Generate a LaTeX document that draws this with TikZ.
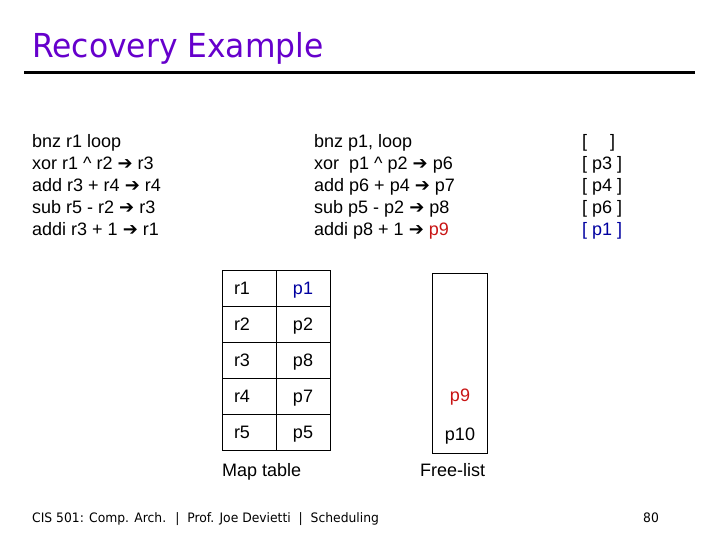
\documentclass[tikz,border=0pt]{standalone}
\usepackage{fontspec}
\setmainfont{Liberation Sans}
\newfontfamily\headfont[FakeStretch=0.95]{DejaVu Sans}
\newfontfamily\symfont{DejaVu Sans}
\usetikzlibrary{positioning}
\definecolor{titlepurple}{RGB}{102,0,204}
\definecolor{physblue}{RGB}{0,0,160}
\definecolor{physred}{RGB}{200,20,20}
\tikzset{every picture/.style={/utils/exec={\fontsize{18}{22}\selectfont}}}
\tikzset{code/.style={anchor=base west,inner sep=0pt}}
\tikzset{cell/.style={draw,minimum width=54pt,minimum height=36pt,inner ysep=0pt,text height=13pt,text depth=0pt}}
\tikzset{regcell/.style={cell,text width=30pt,align=left,inner xsep=12pt}}
\newcommand{\toarrow}{{\symfont\char"2794}}

\begin{document}
\begin{tikzpicture}[x=1pt,y=-1pt]
    \useasboundingbox (0,0) rectangle (720,540);
    % heading
    \node [code,text=titlepurple,font=\headfont\fontsize{33}{36}\selectfont] (title) at (32,58) {Recovery Example};
    \draw [line width=3pt] (24,73) -- (695,73);
    % architectural code, renamed code, history
    \foreach \a/\b/\c [count=\i] in {
        bnz r1 loop/bnz p1{,} loop/{[\hspace{23pt}]},
        xor r1 \textasciicircum{} r2 \toarrow{} r3/xor~ p1 \textasciicircum{} p2 \toarrow{} p6/[ p3 ],
        add r3 + r4 \toarrow{} r4/add p6 + p4 \toarrow{} p7/[ p4 ],
        sub r5 - r2 \toarrow{} r3/sub p5 - p2 \toarrow{} p8/[ p6 ],
        addi r3 + 1 \toarrow{} r1/addi p8 + 1 \toarrow{} \textcolor{physred}{p9}/\textcolor{physblue}{[ p1 ]}} {
        \node [code] (arch\i) at (32,125.5+22*\i) {\a};
        \node [code] (ren\i) at (314,125.5+22*\i) {\b};
        \node [code] (hist\i) at (582,125.5+22*\i) {\c};
    }
    % map table
    \foreach \r/\p [count=\i] in {r1/\textcolor{physblue}{p1},r2/p2,r3/p8,r4/p7,r5/p5} {
        \node [regcell] (reg\i) at (249,252+36*\i) {\r};
        \node [cell] (phys\i) at (303,252+36*\i) {\p};
    }
    \node [code] (maplabel) at (222,476) {Map table};
    % free list
    \node [draw,minimum width=55pt,minimum height=180pt,inner sep=0pt] (free) at (459.5,363) {};
    \node [anchor=base,inner sep=0pt,text=physred] (free9) at (460,401) {p9};
    \node [anchor=base,inner sep=0pt] (free10) at (460,440) {p10};
    \node [code] (freelabel) at (420,476) {Free-list};
    % footer
    \node [code,font=\headfont\fontsize{13}{15}\selectfont] (footer) at (32,522) {CIS 501: Comp. Arch.~ |~ Prof. Joe Devietti~ |~ Scheduling};
    \node [code,font=\headfont\fontsize{13}{15}\selectfont] (pagenum) at (643,522) {80};
\end{tikzpicture}
\end{document}
